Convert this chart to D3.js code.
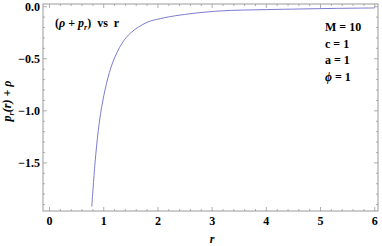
<!DOCTYPE html>
<html>
<head>
<meta charset="utf-8">
<script src="https://cdn.jsdelivr.net/npm/d3@7"></script>
<style>
  body { margin: 0; background: #fff; }
</style>
</head>
<body>
<div id="chart"></div>
<script>
// values
const rValues = [0.78, 0.84, 0.90, 0.96, 1.05, 1.17, 1.34, 1.50, 1.80, 2.04, 2.41, 3.14, 4.0, 4.62, 5.3, 6.0]
const yValues = [-1.92, -1.50, -1.19, -0.97, -0.74, -0.53, -0.35, -0.25, -0.15, -0.115, -0.08, -0.041, -0.028, -0.022, -0.016, -0.012]
const xTicks = [0, 1, 2, 3, 4, 5, 6]
const yTicks = [0, -0.5, -1.0, -1.5]
const params = [["M", " = 10"], ["c", " = 1"], ["a", " = 1"], ["ϕ", " = 1"]]

const W = 382, H = 246
const margin = { left: 43, top: 4, right: 4, bottom: 35 }
const serif = "'Liberation Serif', 'Times New Roman', serif"

const svg = d3.select("#chart").append("svg")
    .attr("width", W).attr("height", H)
    .attr("font-family", serif)

const x = d3.scaleLinear().domain([-0.12, 6.06]).range([margin.left, W - margin.right])
const y = d3.scaleLinear().domain([-1.962, 0.026]).range([H - margin.bottom, margin.top])

const frameColor = "#9a9a9a"

// frame
svg.append("rect")
    .attr("x", x.range()[0]).attr("y", y.range()[1])
    .attr("width", x.range()[1] - x.range()[0])
    .attr("height", y.range()[0] - y.range()[1])
    .attr("fill", "none").attr("stroke", frameColor).attr("stroke-width", 1)

// ticks (major + minor) on all sides, pointing inward
const xMinor = d3.range(0, 6.01, 0.2).map(v => +v.toFixed(1)).filter(v => !xTicks.includes(v))
const yMinor = d3.range(0, -1.95, -0.1).map(v => +v.toFixed(1)).filter(v => !yTicks.includes(v))
const tk = svg.append("g").attr("stroke", frameColor).attr("stroke-width", 0.8)
const bottomY = y.range()[0], topY = y.range()[1], leftX = x.range()[0], rightX = x.range()[1]
xTicks.forEach(v => {
  tk.append("line").attr("x1", x(v)).attr("x2", x(v)).attr("y1", bottomY).attr("y2", bottomY - 4)
  tk.append("line").attr("x1", x(v)).attr("x2", x(v)).attr("y1", topY).attr("y2", topY + 4)
})
xMinor.forEach(v => {
  tk.append("line").attr("x1", x(v)).attr("x2", x(v)).attr("y1", bottomY).attr("y2", bottomY - 2)
  tk.append("line").attr("x1", x(v)).attr("x2", x(v)).attr("y1", topY).attr("y2", topY + 2)
})
yTicks.forEach(v => {
  tk.append("line").attr("x1", leftX).attr("x2", leftX + 4).attr("y1", y(v)).attr("y2", y(v))
  tk.append("line").attr("x1", rightX).attr("x2", rightX - 4).attr("y1", y(v)).attr("y2", y(v))
})
yMinor.forEach(v => {
  tk.append("line").attr("x1", leftX).attr("x2", leftX + 2).attr("y1", y(v)).attr("y2", y(v))
  tk.append("line").attr("x1", rightX).attr("x2", rightX - 2).attr("y1", y(v)).attr("y2", y(v))
})

// tick labels
svg.append("g").selectAll("text").data(xTicks).enter().append("text")
    .attr("x", d => x(d)).attr("y", bottomY + 14)
    .attr("text-anchor", "middle").attr("font-size", 12).attr("font-weight", "bold")
    .text(d => d)
svg.append("g").selectAll("text").data(yTicks).enter().append("text")
    .attr("x", leftX - 3).attr("y", d => y(d) + 4)
    .attr("text-anchor", "end").attr("font-size", 12).attr("font-weight", "bold")
    .text(d => d3.format(".1f")(d).replace("-", "\u2212"))

// the curve
const line = d3.line().x((d, i) => x(rValues[i])).y(d => y(d)).curve(d3.curveCatmullRom.alpha(0.5))
svg.append("path").datum(yValues)
    .attr("d", line).attr("fill", "none")
    .attr("stroke", "#7b7bd0").attr("stroke-width", 1)

// axis titles
svg.append("text").attr("x", x(3)).attr("y", 243)
    .attr("text-anchor", "middle").attr("font-size", 12).attr("font-style", "italic").attr("font-weight", "bold")
    .text("r")

const yl = svg.append("text")
    .attr("transform", "translate(11," + 101 + ") rotate(-90)")
    .attr("text-anchor", "middle").attr("font-size", 12).attr("font-style", "italic").attr("font-weight", "bold")
yl.append("tspan").text("p")
yl.append("tspan").attr("font-size", 8).attr("dy", 3).text("r")
yl.append("tspan").attr("dy", -3).text("(r) + ρ")

// title inside plot
const tt = svg.append("text").attr("x", 55).attr("y", 27)
    .attr("font-size", 12).attr("font-weight", "bold")
    .style("white-space", "pre")
tt.append("tspan").text("(")
tt.append("tspan").attr("font-style", "italic").text("ρ")
tt.append("tspan").text(" + ")
tt.append("tspan").attr("font-style", "italic").text("p")
tt.append("tspan").attr("font-style", "italic").attr("font-size", 8).attr("dy", 3).text("r")
tt.append("tspan").attr("dy", -3).text(")  vs  r")

// parameter block
const pb = svg.append("g").selectAll("text").data(params).enter().append("text")
    .attr("x", 325).attr("y", (d, i) => 31 + i * 16.7)
    .attr("font-size", 12).attr("font-weight", "bold")
pb.append("tspan").attr("font-style", (d, i) => i === 3 ? "italic" : null).text(d => d[0])
pb.append("tspan").text(d => d[1])
</script>
</body>
</html>
